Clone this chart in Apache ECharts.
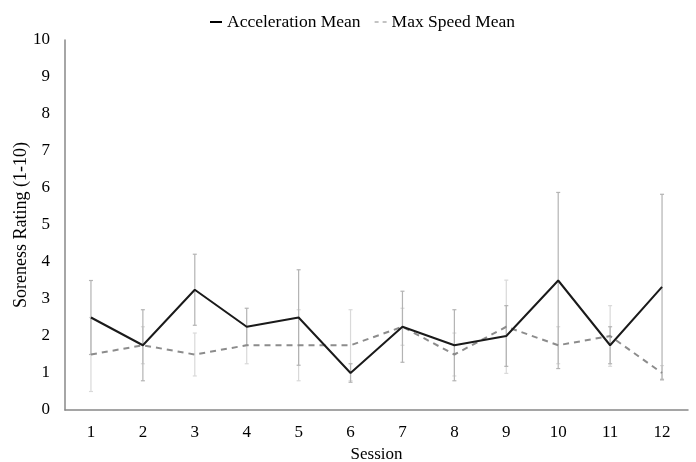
<!DOCTYPE html>
<html>
<head>
<meta charset="utf-8">
<script src="https://cdn.jsdelivr.net/npm/echarts@6/dist/echarts.min.js"></script>
<style>html,body{margin:0;padding:0;background:#fff}#c{width:696px;height:462px}</style>
</head>
<body>
<div id="c"></div>
<script>
var sessions = ['1','2','3','4','5','6','7','8','9','10','11','12'];
var accMean = [2.5, 1.75, 3.25, 2.25, 2.5, 1.0, 2.25, 1.75, 2.0, 3.5, 1.75, 3.33];
var accSD   = [1.0, 0.96, 0.96, 0.5, 1.29, 0.25, 0.96, 0.96, 0.82, 2.38, 0.5, 2.5];
var spdMean = [1.5, 1.75, 1.5, 1.75, 1.75, 1.75, 2.25, 1.5, 2.25, 1.75, 2.0, 1.0];
var spdSD   = [1.0, 0.5, 0.58, 0.5, 0.96, 0.96, 0.5, 0.58, 1.26, 0.5, 0.82, 0.2];

function errData(mean, sd) {
  return mean.map(function (m, i) { return [i, m - sd[i], m + sd[i]]; });
}
function errSeries(mean, sd, color, z) {
  return {
    type: 'custom',
    z: z,
    silent: true,
    data: errData(mean, sd),
    renderItem: function (params, api) {
      var x = api.value(0);
      var lo = api.coord([x, api.value(1)]);
      var hi = api.coord([x, api.value(2)]);
      var w = 2;
      var st = { stroke: color, lineWidth: 1.2 };
      return {
        type: 'group',
        children: [
          { type: 'line', shape: { x1: hi[0], y1: hi[1], x2: lo[0], y2: lo[1] }, style: st },
          { type: 'line', shape: { x1: hi[0] - w, y1: hi[1], x2: hi[0] + w, y2: hi[1] }, style: st },
          { type: 'line', shape: { x1: lo[0] - w, y1: lo[1], x2: lo[0] + w, y2: lo[1] }, style: st }
        ]
      };
    }
  };
}

var font = '"Liberation Serif", "Times New Roman", serif';
var chart = echarts.init(document.getElementById('c'));
chart.setOption({
  animation: false,
  textStyle: { fontFamily: font },
  legend: {
    top: 8,
    left: 205,
    itemGap: 14,
    itemWidth: 12,
    itemHeight: 2,
    textStyle: { fontFamily: font, fontSize: 17.5, color: '#000' },
    data: [
      { name: 'Acceleration Mean', icon: 'rect', itemStyle: { color: '#000' } },
      { name: 'Max Speed Mean', icon: 'path://M0,0 L4,0 L4,1 L0,1 Z M8,0 L12,0 L12,1 L8,1 Z', itemStyle: { color: '#888' } }
    ]
  },
  grid: { left: 65, right: 8, top: 40, bottom: 52, outerBoundsMode: 'none', containLabel: false },
  xAxis: {
    type: 'category',
    data: sessions,
    boundaryGap: true,
    name: 'Session',
    nameLocation: 'middle',
    nameGap: 35,
    nameTextStyle: { fontFamily: font, fontSize: 17, color: '#000' },
    axisLine: { lineStyle: { color: '#888', width: 1.5 } },
    axisTick: { show: false },
    axisLabel: { fontFamily: font, fontSize: 17, color: '#000', margin: 14 }
  },
  yAxis: {
    type: 'value',
    min: 0, max: 10, interval: 1,
    name: 'Soreness Rating (1-10)',
    nameLocation: 'middle',
    nameGap: 35,
    nameMoveOverlap: false,
    nameRotate: 90,
    nameTextStyle: { fontFamily: font, fontSize: 18, color: '#000' },
    axisLine: { show: true, lineStyle: { color: '#888', width: 1.5 } },
    axisTick: { show: false },
    splitLine: { show: false },
    axisLabel: { fontFamily: font, fontSize: 17, color: '#000', margin: 15 }
  },
  series: [
    errSeries(spdMean, spdSD, '#d9d9d9', 1),
    errSeries(accMean, accSD, '#b3b3b3', 2),
    {
      name: 'Max Speed Mean', type: 'line', data: spdMean, z: 3,
      symbol: 'none', lineStyle: { color: '#8c8c8c', width: 2, type: [6, 5] },
      itemStyle: { color: '#8c8c8c' }
    },
    {
      name: 'Acceleration Mean', type: 'line', data: accMean, z: 4,
      symbol: 'none', lineStyle: { color: '#1a1a1a', width: 2 },
      itemStyle: { color: '#000' }
    }
  ]
});
</script>
</body>
</html>
